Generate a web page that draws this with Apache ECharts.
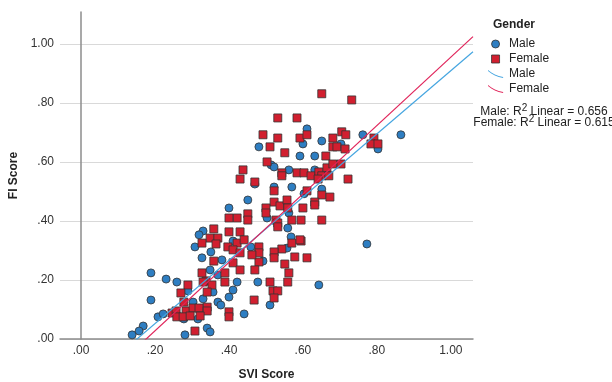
<!DOCTYPE html>
<html>
<head>
<meta charset="utf-8">
<script src="https://cdn.jsdelivr.net/npm/echarts@6/dist/echarts.min.js"></script>
<style>
  html, body { margin: 0; padding: 0; background: #fff; }
  #chart { width: 612px; height: 382px; }
</style>
</head>
<body>
<div id="chart"></div>
<script>
// SVI / FI values
const maleSVI = [0.611, 0.600, 0.651, 0.762, 0.865, 0.703, 0.803, 0.481, 0.592, 0.632, 0.514, 0.522, 0.562, 0.632, 0.470, 0.522, 0.570, 0.651, 0.603, 0.451, 0.400, 0.562, 0.503, 0.559, 0.568, 0.330, 0.319, 0.308, 0.327, 0.351, 0.411, 0.459, 0.557, 0.492, 0.381, 0.349, 0.370, 0.422, 0.478, 0.357, 0.400, 0.370, 0.378, 0.511, 0.441, 0.341, 0.349, 0.773, 0.643, 0.189, 0.230, 0.259, 0.189, 0.303, 0.208, 0.222, 0.278, 0.316, 0.168, 0.157, 0.138, 0.281, 0.289, 0.330, 0.411];
const maleFI = [0.712, 0.661, 0.671, 0.692, 0.692, 0.661, 0.644, 0.651, 0.620, 0.620, 0.590, 0.583, 0.573, 0.573, 0.525, 0.515, 0.515, 0.508, 0.492, 0.471, 0.444, 0.427, 0.410, 0.376, 0.346, 0.366, 0.353, 0.312, 0.275, 0.295, 0.332, 0.312, 0.308, 0.264, 0.268, 0.234, 0.217, 0.193, 0.193, 0.159, 0.142, 0.125, 0.115, 0.115, 0.085, 0.037, 0.024, 0.322, 0.183, 0.224, 0.203, 0.193, 0.132, 0.125, 0.075, 0.085, 0.068, 0.068, 0.044, 0.027, 0.014, 0.014, 0.163, 0.136, 0.166];

const femaleSVI = [0.651, 0.732, 0.532, 0.584, 0.492, 0.532, 0.592, 0.611, 0.681, 0.705, 0.716, 0.792, 0.784, 0.803, 0.681, 0.692, 0.714, 0.511, 0.551, 0.662, 0.503, 0.438, 0.430, 0.470, 0.543, 0.584, 0.603, 0.543, 0.622, 0.643, 0.665, 0.681, 0.703, 0.651, 0.670, 0.641, 0.722, 0.522, 0.611, 0.651, 0.673, 0.632, 0.600, 0.522, 0.538, 0.557, 0.500, 0.500, 0.559, 0.422, 0.400, 0.451, 0.451, 0.527, 0.570, 0.595, 0.651, 0.632, 0.359, 0.400, 0.430, 0.349, 0.370, 0.422, 0.441, 0.570, 0.397, 0.481, 0.543, 0.411, 0.430, 0.481, 0.522, 0.522, 0.578, 0.359, 0.411, 0.481, 0.551, 0.389, 0.430, 0.470, 0.562, 0.338, 0.354, 0.389, 0.511, 0.559, 0.519, 0.532, 0.522, 0.468, 0.341, 0.400, 0.400, 0.595, 0.611, 0.327, 0.327, 0.532, 0.532, 0.592, 0.289, 0.270, 0.278, 0.246, 0.257, 0.284, 0.303, 0.319, 0.341, 0.259, 0.276, 0.295, 0.322, 0.308, 0.330, 0.341, 0.365, 0.462];
const femaleFI = [0.831, 0.810, 0.749, 0.749, 0.692, 0.681, 0.681, 0.692, 0.681, 0.702, 0.692, 0.681, 0.661, 0.661, 0.651, 0.651, 0.644, 0.651, 0.631, 0.620, 0.600, 0.573, 0.542, 0.532, 0.563, 0.563, 0.563, 0.553, 0.553, 0.566, 0.580, 0.593, 0.593, 0.553, 0.553, 0.542, 0.542, 0.502, 0.502, 0.488, 0.481, 0.464, 0.444, 0.464, 0.451, 0.471, 0.444, 0.427, 0.444, 0.410, 0.410, 0.424, 0.403, 0.403, 0.403, 0.403, 0.403, 0.454, 0.373, 0.363, 0.363, 0.342, 0.342, 0.325, 0.336, 0.325, 0.312, 0.312, 0.305, 0.302, 0.292, 0.292, 0.295, 0.275, 0.278, 0.264, 0.258, 0.261, 0.254, 0.224, 0.234, 0.234, 0.224, 0.197, 0.183, 0.193, 0.193, 0.193, 0.163, 0.163, 0.139, 0.132, 0.108, 0.092, 0.075, 0.332, 0.275, 0.325, 0.224, 0.393, 0.380, 0.336, 0.183, 0.156, 0.125, 0.088, 0.095, 0.095, 0.105, 0.105, 0.095, 0.075, 0.075, 0.078, 0.078, 0.027, 0.193, 0.159, 0.322, 0.285];

// fit lines (intercept, slope) and R squared
const maleFit = { intercept: -0.162, slope: 1.071, r2: '0.656' };
const femaleFit = { intercept: -0.204, slope: 1.159, r2: '0.615' };

const tickValues = [0, 0.2, 0.4, 0.6, 0.8, 1.0];
const xMin = -0.057, xMax = 1.06, yMax = 1.108;

const maleColor = '#2e7ec2';
const femaleColor = '#d11f2f';
const maleLine = '#45a5e0';
const femaleLine = '#e0245a';
const font = 'Liberation Sans';

const pairs = (xs, ys) => xs.map((x, i) => [x, ys[i]]);
const fitLine = f => [xMin, xMax].map(x => [x, f.intercept + f.slope * x]);
const fmt = v => v.toFixed(2).replace(/^0/, '');

const chart = echarts.init(document.getElementById('chart'));

// R² caption with a raised 2
const r2Style = (label, r2) => ({
    text: label + ': R{s|2} Linear = ' + r2,
    align: 'center', fontFamily: font, fontSize: 12, fill: '#222', lineHeight: 18,
    rich: { s: { fontSize: 10, fontFamily: font, fill: '#222', verticalAlign: 'top', lineHeight: 10 } }
});

const option = {
    backgroundColor: '#fff',
    animation: false,
    grid: { left: 60, top: 12, right: 139, bottom: 43, containLabel: false, outerBoundsMode: 'none' },
    xAxis: {
        type: 'value',
        min: xMin,
        max: xMax,
        name: 'SVI Score',
        nameLocation: 'middle',
        nameGap: 30,
        nameTextStyle: { fontFamily: font, fontWeight: 'bold', fontSize: 12, color: '#222' },
        axisLine: { lineStyle: { color: '#8c8c8c', width: 1.5 } },
        axisTick: { show: false, customValues: tickValues },
        axisLabel: { customValues: tickValues, formatter: fmt, margin: 6, fontFamily: font, fontSize: 12, color: '#333' },
        splitLine: { show: false }
    },
    yAxis: {
        type: 'value',
        min: 0,
        max: yMax,
        name: 'FI Score',
        nameLocation: 'middle',
        nameGap: 40,
        nameTextStyle: { fontFamily: font, fontWeight: 'bold', fontSize: 12, color: '#222' },
        axisLine: { show: true, lineStyle: { color: '#8c8c8c', width: 1.5 } },
        axisTick: { show: false, customValues: tickValues },
        axisLabel: { customValues: tickValues, formatter: fmt, margin: 6, fontFamily: font, fontSize: 12, color: '#333' },
        splitLine: { show: true, lineStyle: { color: '#d9d9d9', width: 1 } }
    },
    legend: {
        orient: 'vertical',
        left: 483,
        top: 33,
        itemWidth: 17,
        itemHeight: 8,
        itemGap: 3,
        selectedMode: false,
        formatter: name => name.replace(' fit', ''),
        textStyle: { fontFamily: font, fontSize: 12, color: '#222' },
        data: [
            { name: 'Male', icon: 'circle', itemStyle: { color: maleColor, borderColor: '#333', borderWidth: 0.8 } },
            { name: 'Female', icon: 'path://M0,0H10V10H0Z', itemStyle: { color: femaleColor, borderColor: '#333', borderWidth: 0.8 } },
            { name: 'Male fit', icon: 'path://M0,0 C5,4 10,7 17,8 L17,9 C10,8 5,5 0,1.2 Z', itemStyle: { color: maleLine, borderWidth: 0 } },
            { name: 'Female fit', icon: 'path://M0,0 C5,4 10,7 17,8 L17,9 C10,8 5,5 0,1.2 Z', itemStyle: { color: femaleLine, borderWidth: 0 } }
        ]
    },
    graphic: [
        {
            type: 'text', left: 493, top: 19,
            style: { text: 'Gender', fontFamily: font, fontWeight: 'bold', fontSize: 12, fill: '#222' }
        },
        { type: 'text', x: 544, y: 103, style: r2Style('Male', maleFit.r2) },
        { type: 'text', x: 544, y: 114, style: r2Style('Female', femaleFit.r2) }
    ],
    series: [
        {
            name: 'Male',
            type: 'scatter',
            symbol: 'circle',
            symbolSize: 8,
            itemStyle: { color: maleColor, borderColor: '#333', borderWidth: 0.8, opacity: 1 },
            data: pairs(maleSVI, maleFI),
            z: 2
        },
        {
            name: 'Female',
            type: 'scatter',
            symbol: 'rect',
            symbolSize: 8,
            itemStyle: { color: femaleColor, borderColor: '#333', borderWidth: 0.8, opacity: 1 },
            data: pairs(femaleSVI, femaleFI),
            z: 2
        },
        {
            name: 'Male fit',
            type: 'line',
            symbol: 'none',
            clip: true,
            lineStyle: { color: maleLine, width: 1.2 },
            itemStyle: { color: maleLine },
            data: fitLine(maleFit),
            z: 3
        },
        {
            name: 'Female fit',
            type: 'line',
            symbol: 'none',
            clip: true,
            lineStyle: { color: femaleLine, width: 1.2 },
            itemStyle: { color: femaleLine },
            data: fitLine(femaleFit),
            z: 3
        }
    ]
};

chart.setOption(option);
</script>
</body>
</html>
